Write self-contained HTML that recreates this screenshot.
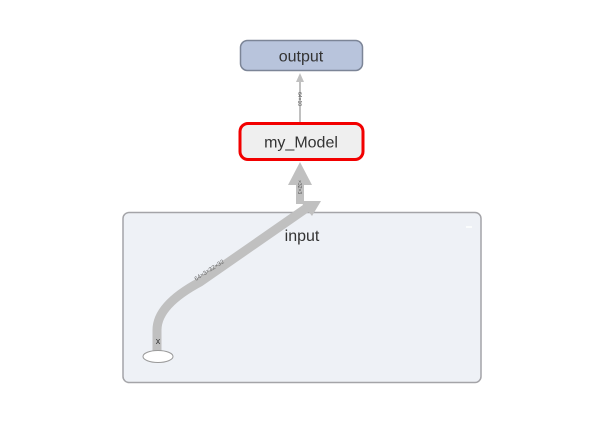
<!DOCTYPE html>
<html><head><style>
html,body{margin:0;padding:0;background:#fff;}
svg{display:block;font-family:"Liberation Sans",sans-serif;}
</style></head><body>
<svg width="607" height="429" viewBox="0 0 607 429" xmlns="http://www.w3.org/2000/svg">
<rect x="123" y="212.5" width="358" height="170" rx="6" fill="#eef1f6" stroke="#a4a4a8" stroke-width="1.5"/>
<line x1="466" y1="227" x2="472" y2="227" stroke="#fff" stroke-width="1.5"/>
<text x="302" y="241" font-size="16" fill="#333" text-anchor="middle">input</text>
<path d="M157,352 L157,330 Q157,305 200,282 L308,207" fill="none" stroke="#c0c0c0" stroke-width="9"/>
<polygon points="321,201 300,201 312,216" fill="#c0c0c0"/>
<text x="0" y="0" font-size="6" fill="#666" transform="translate(196,281) rotate(-33)">64×3×32×32</text>
<text x="158" y="344" font-size="9" fill="#333" text-anchor="middle">x</text>
<ellipse cx="158" cy="356.5" rx="15" ry="6" fill="#fff" stroke="#999" stroke-width="1"/>
<rect x="296" y="182" width="8" height="22" fill="#c0c0c0"/>
<polygon points="300,162 288,185 312,185" fill="#c0c0c0"/>
<text font-size="5" fill="#555" transform="translate(298,180) rotate(90)">×32×3</text>
<line x1="300" y1="122" x2="300" y2="80" stroke="#c0c0c0" stroke-width="2"/>
<polygon points="300,73 296,82 304,82" fill="#c0c0c0"/>
<text font-size="5" fill="#555" transform="translate(298,92) rotate(90)">64×10</text>
<rect x="240.5" y="40.5" width="122" height="30" rx="7" fill="#b8c4dc" stroke="#7c8597" stroke-width="1.5"/>
<text x="301" y="61.5" font-size="16" fill="#333" text-anchor="middle">output</text>
<rect x="240" y="123.5" width="123" height="36" rx="8" fill="#efefef" stroke="#f20000" stroke-width="3"/>
<text x="301" y="147.5" font-size="16" fill="#333" text-anchor="middle">my_Model</text>
</svg>
</body></html>
